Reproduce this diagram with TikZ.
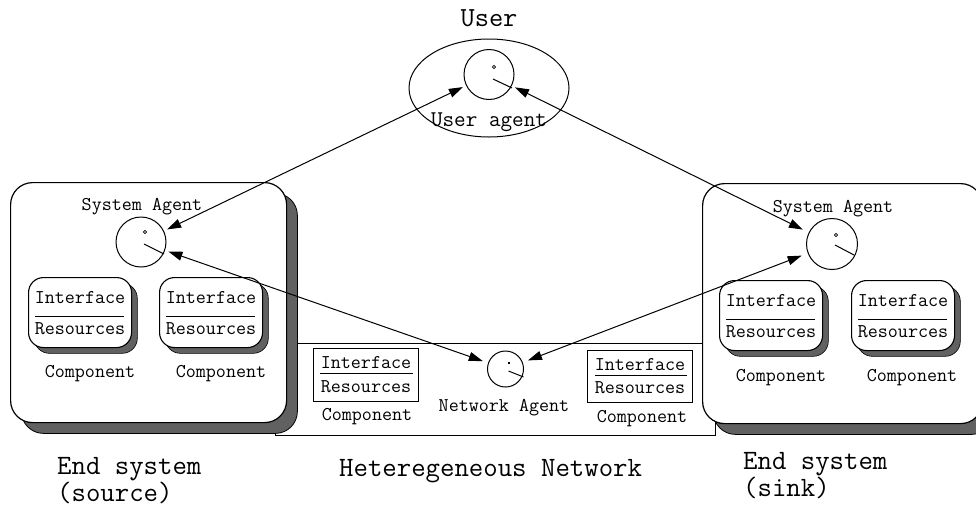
\documentclass[tikz,border=0pt]{standalone}
\usepackage{fontspec}
\usetikzlibrary{arrows.meta,shapes.geometric}
\begin{document}
\begin{tikzpicture}[x=1pt,y=-1pt,
  ln/.style={line width=1pt},
  sysbox/.style={draw=black,line width=1.2pt,fill=white,rounded corners=22pt,anchor=north west,inner sep=0pt},
  sysshadow/.style={draw=black,line width=0.8pt,fill=black!62,rounded corners=22pt,anchor=north west,inner sep=0pt},
  compbox/.style={draw=black,line width=1.1pt,fill=white,rounded corners=15pt,anchor=north west,inner sep=0pt,minimum width=103pt,minimum height=70pt},
  compshadow/.style={draw=black,line width=0.6pt,fill=black!62,rounded corners=15pt,anchor=north west,inner sep=0pt,minimum width=103pt,minimum height=70pt},
  netbox/.style={draw=black,line width=1.1pt,fill=white,anchor=north west,inner sep=0pt},
  agent/.style={draw=black,line width=1pt,circle,inner sep=0pt},
  txt/.style={font=\ttfamily\fontsize{19.5}{22}\selectfont,anchor=base,inner sep=0pt},
  big/.style={font=\ttfamily\fontsize{28}{25}\selectfont,anchor=base west,inner sep=0pt},
  bigtop/.style={big,text depth=0pt},
  bigbot/.style={big,text height=15pt},
  biarrow/.style={line width=1pt,{Triangle[length=14pt,width=9pt]}-{Triangle[length=14pt,width=9pt]}},
]
\useasboundingbox (0,0) rectangle (976,509);
\clip (0,0) rectangle (976,509);

% heterogeneous network region
\node[draw=black,line width=1pt,anchor=north west,inner sep=0pt,minimum width=440pt,minimum height=92pt] (net) at (275,343) {};

% left end system
\node[sysshadow,minimum width=276pt,minimum height=240pt] (lsyssh) at (21,193) {};
\node[sysbox,minimum width=276pt,minimum height=240pt] (lsys) at (10,182) {};
% right end system
\node[sysshadow,minimum width=280pt,minimum height=240pt] (rsyssh) at (713,194) {};
\node[sysbox,minimum width=280pt,minimum height=240pt] (rsys) at (702,183) {};

% component boxes in end systems
\foreach \nm/\x/\y in {lc1/28/277, lc2/159/277, rc1/719/280, rc2/851/280}{
  \node[compshadow] (\nm sh) at (\x+6,\y+6) {};
  \node[compbox] (\nm) at (\x,\y) {};
  \node[txt] (\nm i) at (\x+52,\y+26) {Interface};
  \node[txt] (\nm r) at (\x+52,\y+57) {Resources};
  \draw[line width=1pt] (\x+7,\y+39) -- (\x+96,\y+39);
}
\node[txt] (lc1l) at (90,377) {Component};
\node[txt] (lc2l) at (221,377) {Component};
\node[txt] (rc1l) at (781,381) {Component};
\node[txt] (rc2l) at (912,381) {Component};

% network component boxes
\node[netbox,minimum width=105pt,minimum height=53pt] (nc1) at (313,348) {};
\node[txt] (nc1i) at (366,368) {Interface};
\draw[line width=1pt] (320,373) -- (413,373);
\node[txt] (nc1r) at (366,392) {Resources};
\node[txt] (nc1l) at (367,420) {Component};

\node[netbox,minimum width=105pt,minimum height=52pt] (nc2) at (587,350) {};
\node[txt] (nc2i) at (640,370) {Interface};
\draw[line width=1pt] (595,375) -- (687,375);
\node[txt] (nc2r) at (640,393) {Resources};
\node[txt] (nc2l) at (642,422) {Component};

% user
\node[draw=black,line width=1pt,ellipse,minimum width=160pt,minimum height=98pt,inner sep=0pt] (usr) at (489,88) {};
\node[anchor=base,inner sep=0pt,font=\ttfamily\fontsize{27.6}{31}\selectfont] (usrl) at (489,26) {User};
\node[anchor=base,inner sep=0pt,font=\ttfamily\fontsize{22.5}{26}\selectfont] (ual) at (489,126) {User agent};

% agents
\node[agent,minimum size=50pt,outer sep=4pt] (ua) at (489,74.5) {};
\node[agent,minimum size=50pt,outer sep=4pt] (lsa) at (141,242) {};
\node[agent,minimum size=51pt,outer sep=7pt] (rsa) at (832,244) {};
\node[agent,minimum size=36pt,outer sep=6pt] (na) at (505.5,369) {};

\node[txt] (lsal) at (142,210) {System Agent};
\node[txt] (rsal) at (833,212) {System Agent};
\node[txt] (nal) at (504,411) {Network Agent};

% agent faces
\draw[line width=0.8pt] ([shift={(5,-7.5)}]ua.center) circle (1.6);
\draw[line width=1pt] ([shift={(4,4.5)}]ua.center) -- ([shift={(23,13.5)}]ua.center);
\draw[line width=0.8pt] ([shift={(4,-10)}]lsa.center) circle (1.6);
\draw[line width=1pt] ([shift={(3,2)}]lsa.center) -- ([shift={(23,12)}]lsa.center);
\draw[line width=0.8pt] ([shift={(4,-9)}]rsa.center) circle (1.6);
\draw[line width=1pt] ([shift={(3,1)}]rsa.center) -- ([shift={(22,11)}]rsa.center);
\draw[line width=1.2pt] ([shift={(2.5,-6)}]na.center) -- ([shift={(4.5,-6)}]na.center);
\draw[line width=1pt] ([shift={(3,2)}]na.center) -- ([shift={(18,8)}]na.center);

% arrows
\draw[biarrow] (ua) -- (lsa);
\draw[biarrow] (lsa) -- (na);
\draw[biarrow] (na) -- (rsa);
\draw[biarrow] (rsa) -- (ua);

% bottom labels
\node[bigtop] (es1) at (57,474) {End system};
\node[bigbot] (es1b) at (57,501) {(source)};
\node[big] (hn) at (339,476) {Heteregeneous Network};
\node[bigtop] (es2) at (743,469) {End system};
\node[bigbot] (es2b) at (743,496) {(sink)};
\end{tikzpicture}
\end{document}
